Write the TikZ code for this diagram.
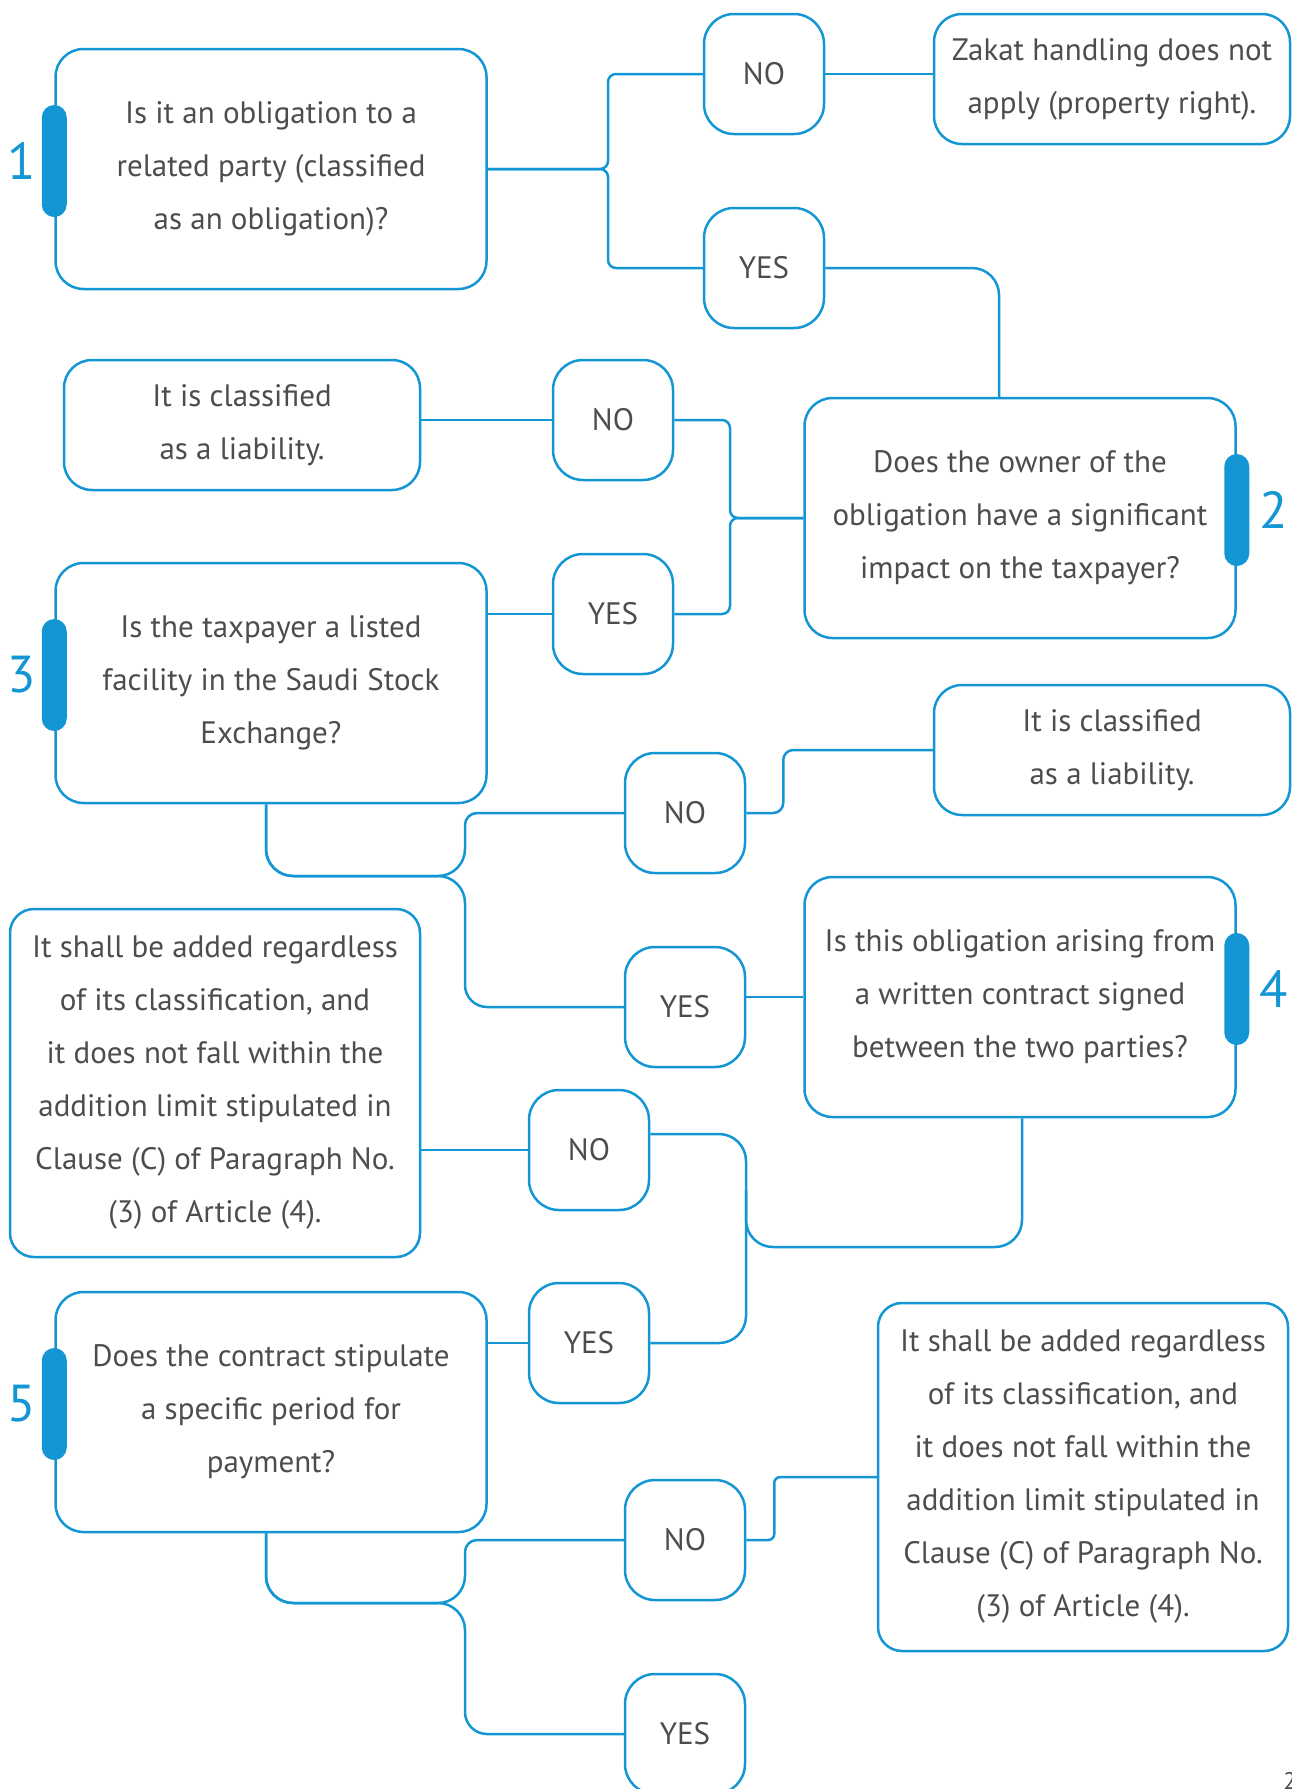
\documentclass[tikz,border=0pt]{standalone}
\usepackage{fontspec}
\setmainfont{PT Sans}
\usepackage{xcolor}
\usetikzlibrary{positioning}

\definecolor{zblue}{RGB}{20,150,212}
\definecolor{ztext}{RGB}{77,77,77}

\begin{document}
\begin{tikzpicture}[
        x=1pt, y=-1pt,
        node/.style={rectangle, draw=zblue, line width=2.5pt, rounded corners=28pt, align=center, text=ztext, font=\fontsize{31}{53}\selectfont, inner sep=0pt},
        question_node/.style={node, minimum width=431pt, minimum height=240pt},
        choice_node/.style={node, minimum width=120pt, minimum height=120pt, rounded corners=30pt},
        result_node/.style={node, minimum width=356pt, minimum height=130pt},
        added_node/.style={node, minimum width=410pt, minimum height=348pt, rounded corners=24pt},
        tab_bar/.style={rectangle, fill=zblue, rounded corners=12.5pt, minimum width=25pt, minimum height=112pt, inner sep=0pt},
        num_label/.style={text=zblue, font=\fontsize{52}{52}\selectfont, inner sep=0pt},
        link/.style={draw=zblue, line width=2.5pt, rounded corners=8pt}
    ]
        \useasboundingbox (0,0) rectangle (1292,1789);

        % Questions and answers
        \node[question_node] (q1) at (271,169) {Is it an obligation to a\\related party (classified\\as an obligation)?};
        \node[choice_node] (no1) at (764,74) {NO};
        \node[result_node] (zakat) at (1112,79) {Zakat handling does not\\apply (property right).};
        \node[choice_node] (yes1) at (764,268) {YES};

        \node[question_node] (q2) at (1020,518) {Does the owner of the\\obligation have a significant\\impact on the taxpayer?};
        \node[choice_node] (no2) at (613,420) {NO};
        \node[result_node] (liab1) at (242,425) {It is classified\\as a liability.};
        \node[choice_node] (yes2) at (613,614) {YES};

        \node[question_node] (q3) at (271,683) {Is the taxpayer a listed\\facility in the Saudi Stock\\Exchange?};
        \node[choice_node] (no3) at (685,813) {NO};
        \node[result_node] (liab2) at (1112,750) {It is classified\\as a liability.};
        \node[choice_node] (yes3) at (685,1007) {YES};

        \node[question_node] (q4) at (1020,997) {Is this obligation arising from\\a written contract signed\\between the two parties?};
        \node[choice_node] (no4) at (589,1150) {NO};
        \node[added_node] (add1) at (215,1083) {It shall be added regardless\\of its classification, and\\it does not fall within the\\addition limit stipulated in\\Clause (C) of Paragraph No.\\(3) of Article (4).};
        \node[choice_node] (yes4) at (589,1343) {YES};

        \node[question_node] (q5) at (271,1412) {Does the contract stipulate\\a specific period for\\payment?};
        \node[choice_node] (no5) at (685,1540) {NO};
        \node[added_node] (add2) at (1083,1477) {It shall be added regardless\\of its classification, and\\it does not fall within the\\addition limit stipulated in\\Clause (C) of Paragraph No.\\(3) of Article (4).};
        \node[choice_node] (yes5) at (685,1734) {YES};

        % Step markers
        \node[tab_bar] (t1) at ([yshift=8pt]q1.west) {};
        \node[num_label, left=6pt of t1] (n1) {1};
        \node[tab_bar] (t2) at ([yshift=8pt]q2.east) {};
        \node[num_label, right=10pt of t2] (n2) {2};
        \node[tab_bar] (t3) at ([yshift=8pt]q3.west) {};
        \node[num_label, left=6pt of t3] (n3) {3};
        \node[tab_bar] (t4) at ([yshift=8pt]q4.east) {};
        \node[num_label, right=10pt of t4] (n4) {4};
        \node[tab_bar] (t5) at ([yshift=8pt]q5.west) {};
        \node[num_label, left=6pt of t5] (n5) {5};

        \node[text=ztext, font=\fontsize{24}{24}\selectfont, anchor=north, inner sep=0pt] (pg) at (1290,1772) {2};

        % Links
        \coordinate (j1) at (608,169);
        \draw[link] (q1.east) -- (j1) |- (no1.west);
        \draw[link] (q1.east) -- (j1) |- (yes1.west);
        \draw[link] (no1.east) -- (no1.east -| zakat.west);
        \draw[link, rounded corners=27pt] (yes1.east) -| ([xshift=-21pt]q2.north);

        \coordinate (j2) at (730,518);
        \draw[link] (q2.west) -- (j2) |- (no2.east);
        \draw[link] (q2.west) -- (j2) |- (yes2.east);
        \draw[link] (no2.west) -- (no2.west -| liab1.east);
        \draw[link] (yes2.west) -- (yes2.west -| q3.east);

        \coordinate (j3) at (465,876);
        \draw[link] ([xshift=-5pt]q3.south) [rounded corners=27pt] |- (j3) [rounded corners=12pt] |- (no3.west);
        \draw[link] ([xshift=-5pt]q3.south) [rounded corners=27pt] |- (j3) [rounded corners=22pt] |- (yes3.west);
        \draw[link, rounded corners=10pt] (no3.east) -- ++(37,0) |- (liab2.west);
        \draw[link] (q4.west -| yes3.east) -- (q4.west);

        \coordinate (j4) at (746,1247);
        \coordinate (j4top) at (746,1190);
        \draw[link, rounded corners=27pt] ([yshift=16pt]no4.east) -| (j4) |- (yes4.east);
        \draw[link, rounded corners=27pt] ([xshift=2pt]q4.south) |- (j4) -- (j4top);
        \draw[link] (no4.west) -- (no4.west -| add1.east);
        \draw[link] (yes4.west) -- (yes4.west -| q5.east);

        \coordinate (j5) at (465,1603);
        \draw[link] ([xshift=-5pt]q5.south) [rounded corners=27pt] |- (j5) [rounded corners=12pt] |- (no5.west);
        \draw[link] ([xshift=-5pt]q5.south) [rounded corners=27pt] |- (j5) [rounded corners=22pt] |- (yes5.west);
        \draw[link, rounded corners=6pt] (no5.east) -- ++(28,0) |- (add2.west);

    \end{tikzpicture}
\end{document}
